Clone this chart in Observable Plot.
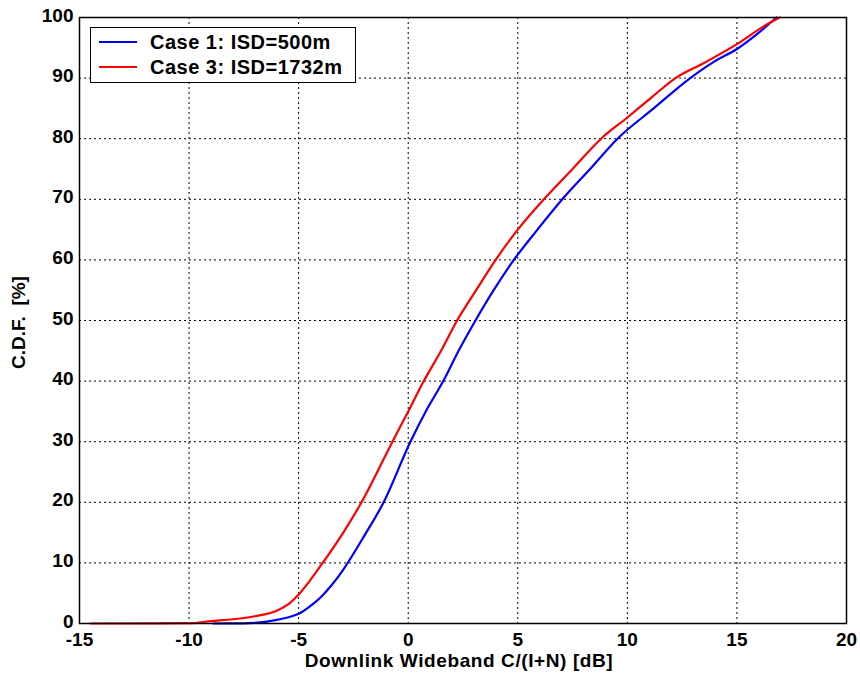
<!DOCTYPE html>
<html>
<head>
<meta charset="utf-8">
<script src="https://cdn.jsdelivr.net/npm/d3@7"></script>
<script src="https://cdn.jsdelivr.net/npm/@observablehq/plot@0.6"></script>
<style>
  body { margin: 0; background: #fff; }
  #wrap { position: relative; width: 860px; height: 677px; font-family: "Liberation Sans", Arial, Helvetica, sans-serif; }
  #legend { position: absolute; left: 90px; top: 27px; width: 266px; height: 56px; border: 1.5px solid #000; background: #fff; box-sizing: border-box; }
  .row { position: absolute; left: 0; height: 26px; font-weight: bold; font-size: 20px; letter-spacing: 0.5px; color: #000; white-space: nowrap; }
  .sw { position: absolute; left: 8px; top: 12px; width: 38px; height: 0; border-top: 2.5px solid; }
  .lbl { position: absolute; left: 59px; top: 1px; line-height: 24px; }
</style>
</head>
<body>
<div id="wrap"></div>
<script>
// Case 1: ISD=500m (blue)
const case1X = [-8.9, -7.5, -7, -6, -5.5, -5, -4.5, -4, -3.5, -3, -2, -1.12, 0.1, 0.8, 1.6, 2.3, 3.07, 3.9, 4.82, 5.9, 7.03, 8.3, 9.55, 11.2, 12.87, 14, 15, 16, 16.8];
const case1Y = [0, 0.02, 0.1, 0.6, 1.0, 1.6, 2.8, 4.3, 6.3, 8.7, 14.5, 20, 30, 35, 40, 45, 50, 55, 60, 65, 70, 75, 80, 85, 90, 92.8, 94.8, 97.5, 100];
// Case 3: ISD=1732m (red)
const case3X = [-14.5, -10, -9, -8, -7, -6, -5.5, -5, -4.5, -4, -3, -2.13, -0.72, 0, 0.71, 1.5, 2.23, 3.1, 3.99, 5, 6.19, 7.5, 8.8, 10, 11, 12.2, 13.5, 15, 16.2, 16.95];
const case3Y = [0, 0.05, 0.4, 0.7, 1.2, 2.1, 3.1, 4.8, 7, 9.5, 14.8, 20, 30, 35, 40, 45, 50, 55, 60, 65, 70, 75, 80, 83.5, 86.5, 90, 92.5, 95.6, 98.5, 100];

const xTicks = [-15, -10, -5, 0, 5, 10, 15, 20];
const yTicks = [0, 10, 20, 30, 40, 50, 60, 70, 80, 90, 100];
const seriesNames = ["Case 1: ISD=500m", "Case 3: ISD=1732m"];
const seriesColors = ["#0000ff", "#ff0000"];
const xLabel = "Downlink Wideband C/(I+N) [dB]";
const yLabel = "C.D.F.  [%]";

const c1 = case1X.map((x, i) => ({x, y: case1Y[i]}));
const c3 = case3X.map((x, i) => ({x, y: case3Y[i]}));

const font = "Liberation Sans, Arial, Helvetica, sans-serif";

const chart = Plot.plot({
  width: 860,
  height: 677,
  marginLeft: 79,
  marginRight: 14,
  marginTop: 17,
  marginBottom: 54,
  style: {fontFamily: font, fontWeight: "bold", fontSize: "19px", color: "#000", background: "#fff", overflow: "visible"},
  x: {domain: [-15, 20]},
  y: {domain: [0, 100]},
  marks: [
    Plot.gridX(xTicks, {stroke: "#000", strokeOpacity: 1, strokeDasharray: "2,3", strokeWidth: 1}),
    Plot.gridY(yTicks, {stroke: "#000", strokeOpacity: 1, strokeDasharray: "2,3", strokeWidth: 1}),
    Plot.axisX(xTicks, {tickSize: 0, tickPadding: 9, label: null, tickFormat: d => String(d), fontSize: 19, fontWeight: "bold"}),
    Plot.axisY(yTicks, {tickSize: 0, tickPadding: 6, dy: -2, label: null, tickFormat: d => String(d), fontSize: 19, fontWeight: "bold"}),
    Plot.line(c1, {x: "x", y: "y", stroke: seriesColors[0], strokeWidth: 2.2, curve: "monotone-x"}),
    Plot.line(c3, {x: "x", y: "y", stroke: seriesColors[1], strokeWidth: 2.2, curve: "monotone-x"}),
    Plot.frame({stroke: "#000", strokeWidth: 1.5}),
    Plot.text([xLabel], {frameAnchor: "bottom", dy: 37, dx: -4, text: d => d, fontSize: 19, fontWeight: "bold", fill: "#000", lineAnchor: "middle", textAnchor: "middle"}),
    Plot.text([yLabel], {frameAnchor: "left", dx: -61, dy: 2, rotate: -90, text: d => d, fontSize: 19, fontWeight: "bold", fill: "#000", lineAnchor: "middle", textAnchor: "middle"})
  ]
});

const wrap = document.getElementById("wrap");
wrap.appendChild(chart);
chart.querySelectorAll("text").forEach(t => {
  if (t.textContent === xLabel) t.setAttribute("letter-spacing", "0.6");
});

const legend = document.createElement("div");
legend.id = "legend";
seriesNames.forEach((name, i) => {
  const row = document.createElement("div");
  row.className = "row";
  row.style.top = (i === 0 ? 1 : 26) + "px";
  row.style.width = "100%";
  const sw = document.createElement("div");
  sw.className = "sw";
  sw.style.borderTopColor = seriesColors[i];
  const lbl = document.createElement("span");
  lbl.className = "lbl";
  lbl.textContent = name;
  row.appendChild(sw);
  row.appendChild(lbl);
  legend.appendChild(row);
});
wrap.appendChild(legend);
</script>
</body>
</html>
